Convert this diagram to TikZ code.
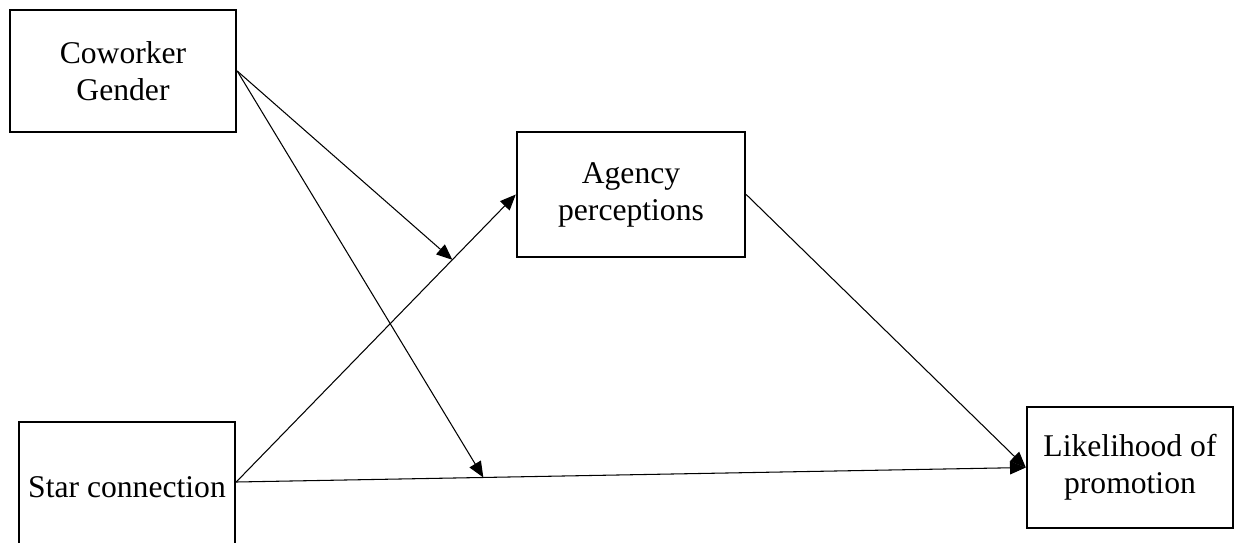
\documentclass[tikz,border=0pt]{standalone}
\usepackage{fontspec}
\setmainfont{Liberation Serif}
\usetikzlibrary{arrows.meta,calc}

\begin{document}
\begin{tikzpicture}[x=0.02cm, y=-0.02cm, font=\fontsize{18}{21}\selectfont]
    \tikzstyle{model box} = [rectangle,draw=black,line width=1.4pt,align=center,inner sep=2pt]
    \tikzstyle{model path} = [draw=black,line width=0.6pt]
    \tikzstyle{model arrow} = [model path, -{Triangle[length=9pt,width=7.5pt]}]
\useasboundingbox (0,0) rectangle (1235,542);
\node[model box, minimum width=4.52cm, minimum height=2.44cm] (coworker) at (123, 71) {Coworker\\Gender};
\node[model box, minimum width=4.56cm, minimum height=2.5cm] (agency) at (631, 194.5) {Agency\\perceptions};
\node[model box, minimum width=4.32cm, minimum height=2.6cm] (star) at (127, 487) {Star connection};
\node[model box, minimum width=4.12cm, minimum height=2.42cm] (promotion) at (1130, 467.5) {Likelihood of\\promotion};
\coordinate (star out) at ([yshift=0.1cm]star.east);
\coordinate (mod agency) at ($(star out)!0.773!(agency.west)$);
\coordinate (mod promotion) at ($(star out)!0.313!(promotion.west)$);
\draw[model arrow] (star out) to (agency.west);
\draw[model arrow] (star out) to (promotion.west);
\draw[model arrow] (agency.east) to (promotion.west);
\draw[model arrow] (coworker.east) to (mod agency);
\draw[model arrow] (coworker.east) to (mod promotion);
\end{tikzpicture}
\end{document}
